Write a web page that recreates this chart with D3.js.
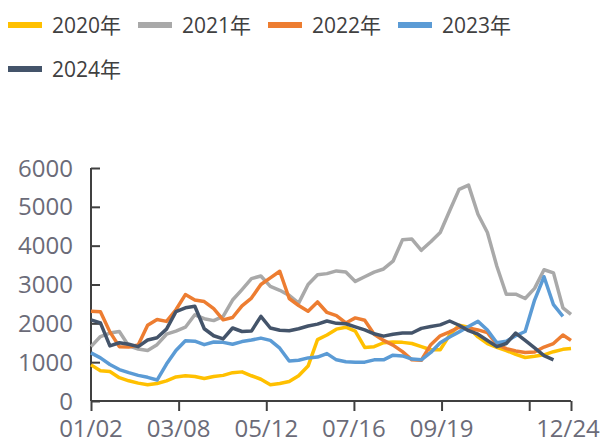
<!DOCTYPE html>
<html>
<head>
<meta charset="utf-8">
<script src="https://cdn.jsdelivr.net/npm/d3@7"></script>
<style>
	body { margin: 0; background: #fff; }
	svg { display: block; font-family: "Open Sans", "Noto Sans CJK SC", sans-serif; }
</style>
</head>
<body>
<svg width="604" height="439"></svg>
<script>
// weekly dates
const dates = ['01/02','01/09','01/16','01/23','01/30','02/06','02/13','02/20','02/27','03/06',
	'03/13','03/20','03/27','04/03','04/10','04/17','04/24','05/01','05/08','05/15',
	'05/22','05/29','06/05','06/12','06/19','06/26','07/03','07/10','07/17','07/24',
	'07/31','08/07','08/14','08/21','08/28','09/04','09/11','09/18','09/25','10/02',
	'10/09','10/16','10/23','10/30','11/06','11/13','11/20','11/27','12/04','12/11',
	'12/18','12/24'];

const y2020 = [930,780,760,600,520,460,420,450,520,620,650,630,580,630,660,730,750,650,560,420,
	450,500,650,900,1580,1700,1850,1900,1800,1380,1400,1500,1520,1510,1480,1400,1320,1320,1700,1950,
	1900,1650,1480,1380,1300,1200,1120,1150,1190,1270,1330,1350];
const y2021 = [1400,1660,1750,1790,1420,1340,1300,1450,1720,1800,1900,2220,2120,2070,2180,2600,2870,3150,3220,2950,
	2850,2720,2520,3000,3250,3280,3350,3320,3080,3200,3320,3400,3600,4150,4170,3880,4100,4340,4900,5450,
	5560,4810,4340,3470,2750,2750,2640,2900,3380,3300,2400,2230];
const y2022 = [2310,2300,1780,1400,1390,1440,1950,2100,2050,2350,2740,2600,2560,2380,2090,2150,2450,2650,3000,3170,
	3340,2640,2460,2310,2550,2280,2200,2010,2140,2080,1720,1560,1440,1270,1060,1050,1450,1680,1780,1900,
	1880,1830,1760,1460,1350,1290,1250,1260,1390,1480,1700,1560];
const y2023 = [1240,1110,940,810,730,660,610,540,950,1300,1550,1540,1450,1520,1510,1460,1530,1570,1620,1560,
	1360,1030,1050,1110,1130,1220,1060,1010,1000,1000,1060,1060,1180,1160,1080,1060,1250,1500,1650,1780,
	1920,2050,1830,1500,1540,1680,1790,2600,3200,2480,2180,null];
const y2024 = [2090,2010,1420,1500,1460,1400,1570,1630,1850,2300,2400,2440,1860,1680,1600,1880,1790,1800,2180,1880,
	1820,1810,1860,1930,1980,2060,2000,1990,1910,1830,1730,1670,1720,1750,1750,1870,1920,1960,2060,1950,
	1810,1720,1560,1400,1480,1750,1560,1370,1170,1060,null,null];

const seriesNames = ['2020年', '2021年', '2022年', '2023年', '2024年'];
const yTicks = [0, 1000, 2000, 3000, 4000, 5000, 6000];
const xTickLabels = ['01/02', '03/08', '05/12', '07/16', '09/19', '11/23', '12/24'];

const colors = ['#FFC000', '#A9A9A9', '#ED7D31', '#5B9BD5', '#44546A'];
const allSeries = [y2020, y2021, y2022, y2023, y2024];

const parse = d3.timeParse('%m/%d');
const dateObjs = dates.map(parse);

const svg = d3.select('svg');

let x = d3.scaleTime()
	.domain([parse('01/02'), parse('12/24')])
	.range([91, 571]);

let y = d3.scaleLinear()
	.domain([0, 6000])
	.range([401, 168]);

// y axis, ticks point inward
let yAxis = svg.append('g')
	.attr('transform', 'translate(91,0)')
	.call(d3.axisRight(y).tickValues(yTicks).tickSize(9).tickFormat(''));
yAxis.selectAll('line, path').attr('stroke', '#404040').attr('stroke-width', 2);
yAxis.select('.domain').attr('d', 'M0,' + y(6000) + 'V' + y(0));

svg.append('g')
	.selectAll('text')
	.data(yTicks)
	.join('text')
	.attr('x', 73)
	.attr('y', d => y(d))
	.attr('dy', '0.36em')
	.attr('text-anchor', 'end')
	.attr('fill', '#6b6b78')
	.attr('font-size', 24)
	.text(d => d);

// x axis
let xAxis = svg.append('g')
	.attr('transform', 'translate(0,401)')
	.call(d3.axisBottom(x).tickValues(xTickLabels.map(parse)).tickSize(10).tickFormat(''));
xAxis.selectAll('line, path').attr('stroke', '#404040').attr('stroke-width', 2);
xAxis.select('.domain').attr('d', 'M' + x.range()[0] + ',0H' + x.range()[1]);

svg.append('g')
	.selectAll('text')
	.data(xTickLabels.filter(d => d !== '11/23'))
	.join('text')
	.attr('x', d => d === '12/24' ? x(parse(d)) - 3 : x(parse(d)))
	.attr('y', 437)
	.attr('text-anchor', 'middle')
	.attr('fill', '#6b6b78')
	.attr('font-size', 24)
	.text(d => d);

// lines
let line = d3.line()
	.defined(d => d[1] != null)
	.x(d => x(d[0]))
	.y(d => y(d[1]));

svg.append('g')
	.selectAll('path')
	.data(allSeries)
	.join('path')
	.attr('fill', 'none')
	.attr('stroke', (d, i) => colors[i])
	.attr('stroke-width', 3.5)
	.attr('stroke-linejoin', 'round')
	.attr('d', d => line(d.map((v, i) => [dateObjs[i], v])));

// legend
let legendPos = [[8, 25], [138, 25], [268, 25], [398, 25], [8, 69]];
let legend = svg.append('g')
	.selectAll('g')
	.data(seriesNames)
	.join('g')
	.attr('transform', (d, i) => 'translate(' + legendPos[i][0] + ',' + legendPos[i][1] + ')');

legend.append('line')
	.attr('x1', 0).attr('x2', 34)
	.attr('stroke', (d, i) => colors[i])
	.attr('stroke-width', 6);

legend.append('text')
	.attr('x', 44)
	.attr('y', 8)
	.attr('fill', '#404040')
	.attr('font-size', 21)
	.text(d => d);
</script>
</body>
</html>
